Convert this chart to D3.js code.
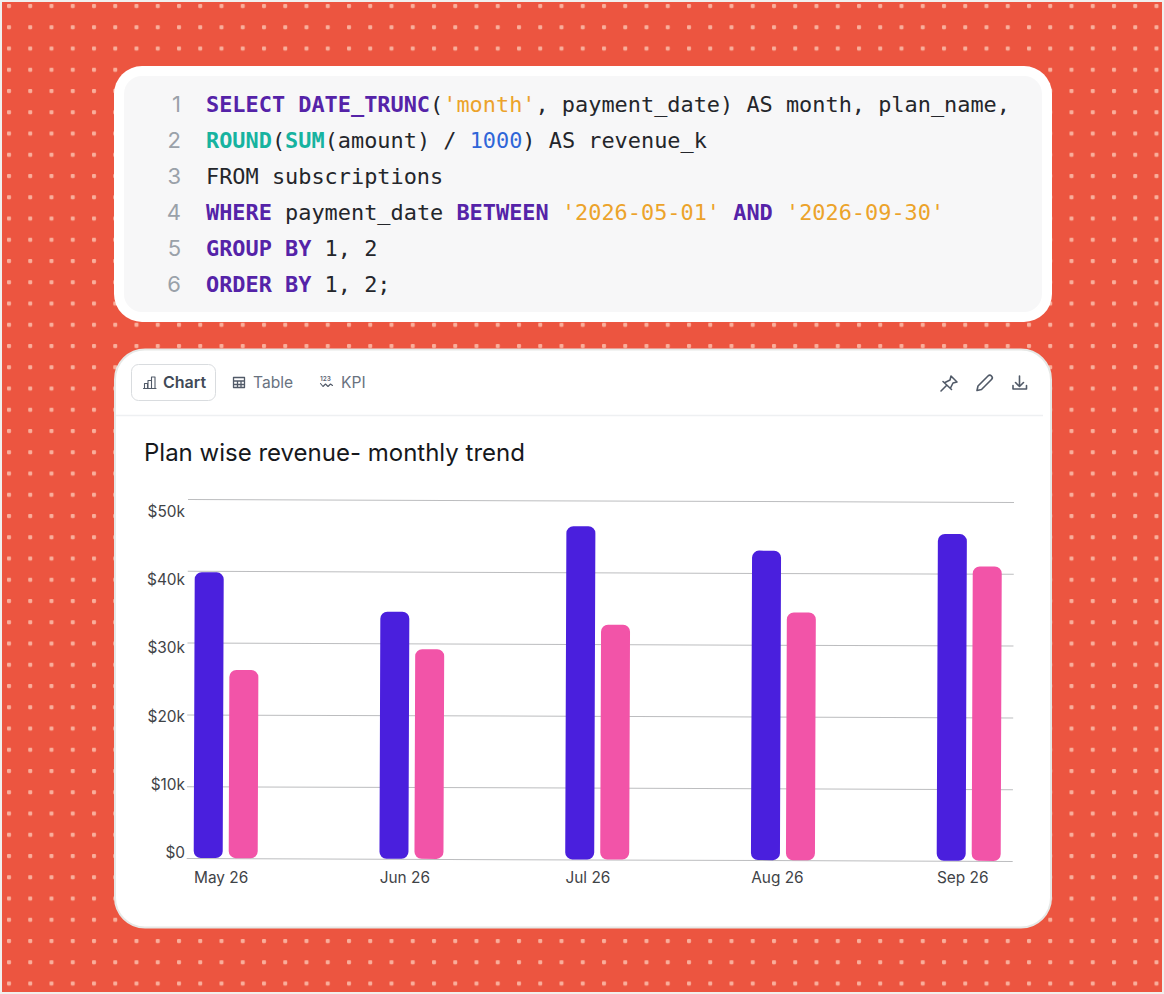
<!DOCTYPE html>
<html>
<head>
<meta charset="utf-8">
<script src="https://cdn.jsdelivr.net/npm/d3@7"></script>
<style>
  html, body { margin: 0; padding: 0; background: #f0f0ee; }
  svg { display: block; }
  .ui { font-family: Inter, "Open Sans", sans-serif; }
  .code { font-family: "DejaVu Sans Mono", monospace; font-size: 21.9px; }
  .y-grid .domain, .y-labels .domain, .x-axis .domain { display: none; }
  .y-labels line, .x-axis line { display: none; }
  .icon { fill: none; stroke: #515a68; stroke-width: 1.6; stroke-linecap: round; stroke-linejoin: round; }
</style>
</head>
<body>
<svg id="chart" width="1164" height="994"></svg>
<script>
// chart data
var months = ["May 26", "Jun 26", "Jul 26", "Aug 26", "Sep 26"];
var seriesNames = ["planA", "planB"];
var planA = [39.8, 34.4, 46.4, 43.1, 45.5];
var planB = [26.2, 29.2, 32.7, 34.5, 41.0];
var yTicks = [0, 10, 20, 30, 40, 50];

// sql text, one list of [text, kind] per line
var codeLines = [
  [["SELECT DATE_TRUNC", "kw"], ["(", "tx"], ["'month'", "st"], [", payment_date) AS month, plan_name,", "tx"]],
  [["ROUND", "fn"], ["(", "tx"], ["SUM", "fn"], ["(amount) / ", "tx"], ["1000", "nu"], [") AS revenue_k", "tx"]],
  [["FROM subscriptions", "tx"]],
  [["WHERE", "kw"], [" payment_date ", "tx"], ["BETWEEN", "kw"], [" ", "tx"], ["'2026-05-01'", "st"], [" ", "tx"], ["AND", "kw"], [" ", "tx"], ["'2026-09-30'", "st"]],
  [["GROUP BY", "kw"], [" 1, 2", "tx"]],
  [["ORDER BY", "kw"], [" 1, 2;", "tx"]]
];
var codeColors = { kw: "#5523a8", fn: "#17b3a0", st: "#eca32a", nu: "#2f66d8", tx: "#24262b" };

var svg = d3.select("#chart");

// dotted orange background
var defs = svg.append("defs");
var pattern = defs.append("pattern")
    .attr("id", "dots")
    .attr("patternUnits", "userSpaceOnUse")
    .attr("x", 7).attr("y", 4)
    .attr("width", 21.25).attr("height", 21.25);
pattern.append("rect").attr("width", 21.25).attr("height", 21.25).attr("fill", "#ec5540");
pattern.append("rect").attr("width", 4).attr("height", 4).attr("rx", 1).attr("fill", "#f9ae9b");

svg.append("rect")
    .attr("x", 2).attr("y", 2)
    .attr("width", 1160).attr("height", 990)
    .attr("fill", "url(#dots)");

// code card
svg.append("rect")
    .attr("x", 114).attr("y", 66).attr("width", 938).attr("height", 256)
    .attr("rx", 28).attr("fill", "#fff");
svg.append("rect")
    .attr("x", 124).attr("y", 76).attr("width", 918).attr("height", 236)
    .attr("rx", 18).attr("fill", "#f7f7f8");

var code = svg.append("g");
codeLines.forEach(function(tokens, i) {
  var baseline = 112 + i * 36;
  code.append("text")
      .attr("class", "ui")
      .attr("x", 181).attr("y", baseline)
      .attr("text-anchor", "end")
      .attr("font-size", 22)
      .attr("fill", "#9aa1a9")
      .text(i + 1);
  var line = code.append("text")
      .attr("class", "code")
      .attr("x", 206).attr("y", baseline)
      .style("white-space", "pre");
  tokens.forEach(function(t) {
    line.append("tspan")
        .attr("fill", codeColors[t[1]])
        .attr("font-weight", t[1] == "kw" || t[1] == "fn" ? 700 : 400)
        .text(t[0]);
  });
});

// chart card
svg.append("rect")
    .attr("x", 115).attr("y", 349.5).attr("width", 936).attr("height", 578)
    .attr("rx", 30).attr("fill", "#fff")
    .attr("stroke", "#e6e8e6").attr("stroke-width", 2);
svg.append("line")
    .attr("x1", 116).attr("x2", 1043).attr("y1", 415.5).attr("y2", 415.5)
    .attr("stroke", "#eef0f2").attr("stroke-width", 1.5);

// tabs
svg.append("rect")
    .attr("x", 131.5).attr("y", 364.5).attr("width", 84).attr("height", 36)
    .attr("rx", 7).attr("fill", "#fff").attr("stroke", "#d9dcdf");
svg.append("text").attr("class", "ui")
    .attr("x", 163).attr("y", 388).attr("font-size", 16).attr("font-weight", 600)
    .attr("fill", "#414a57").text("Chart");
svg.append("text").attr("class", "ui")
    .attr("x", 253).attr("y", 388).attr("font-size", 15.6)
    .attr("fill", "#69727f").text("Table");
svg.append("text").attr("class", "ui")
    .attr("x", 341).attr("y", 388).attr("font-size", 15.6)
    .attr("fill", "#69727f").text("KPI");

// tab icons
svg.append("path").attr("class", "icon")
    .style("stroke-width", 1.1)
    .attr("d", "M143.500 388.500h12.500M144.500 388.500v-5h3v5M148 388.500v-8h3.500v8M151.500 388.500v-11.500h3.500v11.500");
svg.append("path").attr("class", "icon")
    .style("stroke-width", 1.3)
    .attr("d", "M233.500 377.500h11v10h-11zM233.500 381h11M233.500 384.500h11M237.500 381v6.500M241 381v6.500");
svg.append("text").attr("class", "ui")
    .attr("x", 320).attr("y", 381).attr("font-size", 6.5).attr("font-weight", 600)
    .attr("fill", "#5b6472").text("123");
svg.append("path").attr("class", "icon")
    .style("stroke-width", 1.1)
    .attr("d", "M320.500 383.500l2.500 3 2.500-2.500 2.500 2.500 2.500-2.500 2 1.500");

// toolbar icons
svg.append("path").attr("class", "icon")
    .attr("d", "M941 391l5.500-5.500M943 381.500l8.500 8M945 382.500l5-2.500 1-4 6 6-4 1-2.500 5");
svg.append("path").attr("class", "icon")
    .attr("d", "M977 390.500l1-4.500 10-10c1-1 2.500-1 3.500 0s1 2.500 0 3.500l-10 10z");
svg.append("path").attr("class", "icon")
    .attr("d", "M1019.500 376v10M1015.500 382.500l4 4 4-4M1013 385.500v3.500h13.500v-3.500");

// title
svg.append("text").attr("class", "ui")
    .attr("x", 144).attr("y", 461)
    .attr("font-size", 24).attr("fill", "#16181c")
    .text("Plan wise revenue- monthly trend");

// scales
var x0 = d3.scaleBand().domain(months).range([195, 195 + 185.75 * months.length]);
var x1 = d3.scaleBand().domain(seriesNames).range([0, 64]).paddingInner(6 / 35);
var y = d3.scaleLinear().domain([0, 50]).range([858, 499]);
var yLabelScale = d3.scaleLinear().domain([0, 50]).range([852.5, 511.5]);
var color = d3.scaleOrdinal().domain(seriesNames).range(["#4a1fdd", "#f254a8"]);

// plot area is very slightly tilted in the picture
var plot = svg.append("g").attr("transform", "rotate(0.208 188 499)");

plot.append("g")
    .attr("class", "y-grid")
    .attr("transform", "translate(188,0)")
    .call(d3.axisRight(y).tickValues(yTicks).tickSize(826).tickFormat(""))
    .selectAll("line").attr("stroke", "#bcbdbf");

var groups = plot.selectAll(".month")
    .data(months)
    .enter().append("g")
    .attr("class", "month")
    .attr("transform", function(d) { return "translate(" + x0(d) + ",0)"; });

groups.selectAll("rect")
    .data(function(d, i) {
      return [{ key: "planA", value: planA[i] }, { key: "planB", value: planB[i] }];
    })
    .enter().append("rect")
    .attr("x", function(d) { return x1(d.key); })
    .attr("y", function(d) { return y(d.value); })
    .attr("width", x1.bandwidth())
    .attr("height", function(d) { return y(0) - y(d.value); })
    .attr("rx", 7)
    .attr("fill", function(d) { return color(d.key); });

// axis labels
svg.append("g")
    .attr("class", "y-labels ui")
    .attr("transform", "translate(185,0)")
    .call(d3.axisLeft(yLabelScale).tickValues(yTicks).tickSize(0).tickPadding(0)
      .tickFormat(function(d) { return d == 0 ? "$0" : "$" + d + "k"; }))
    .selectAll("text")
    .attr("font-size", 15.4)
    .attr("font-family", "Inter")
    .attr("fill", "#3f4347");

svg.append("g")
    .attr("class", "x-axis ui")
    .attr("transform", "translate(0,872)")
    .call(d3.axisBottom(x0).tickSize(0).tickPadding(0))
    .selectAll("text")
    .attr("font-size", 15.4)
    .attr("font-family", "Inter")
    .attr("fill", "#3f4347")
    .attr("text-anchor", "start")
    .attr("dx", -93.9);
</script>
</body>
</html>
